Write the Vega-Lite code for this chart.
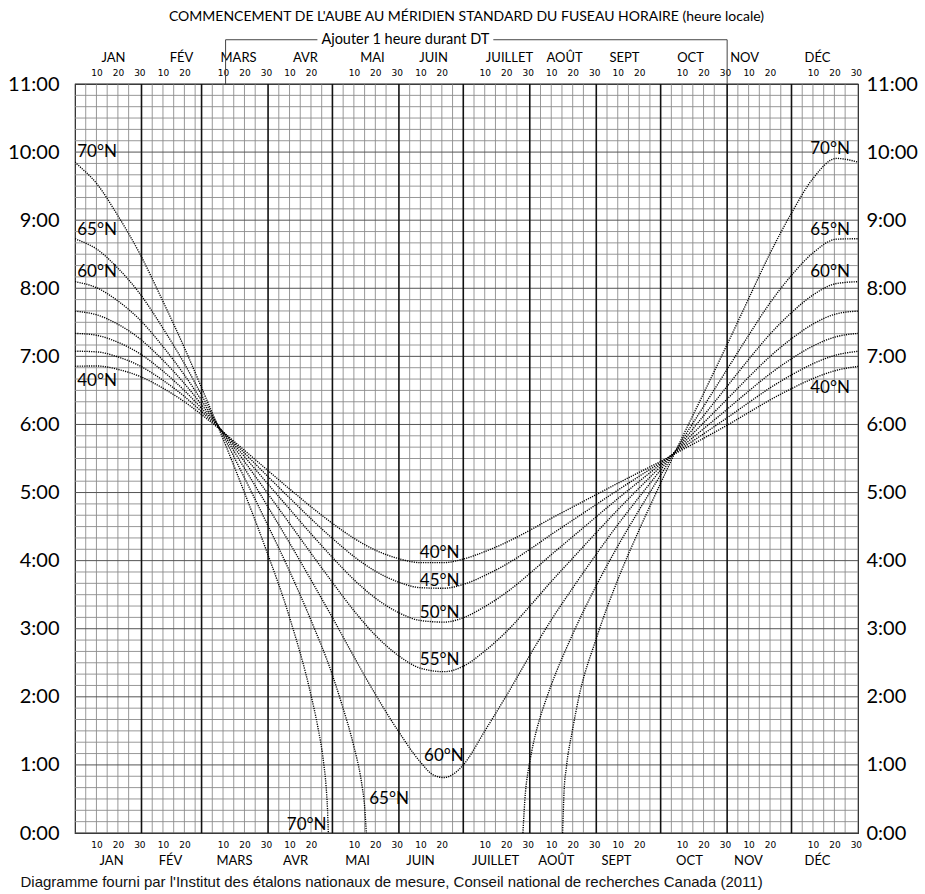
{
"$schema": "https://vega.github.io/schema/vega-lite/v6.json",
"width": 783, "height": 749,
"autosize": {"type": "none"},
"padding": {"left": 75, "top": 84, "right": 67, "bottom": 61},
"background": "white",
"config": {"view": {"stroke": "#222", "strokeWidth": 1.2}, "font": "Lato", "axis": {"labelColor": "black", "labelFont": "Lato"}},
"title": {"text": "COMMENCEMENT DE L'AUBE AU MÉRIDIEN STANDARD DU FUSEAU HORAIRE (heure locale)", "font": "Lato", "fontSize": 14, "fontWeight": "normal", "anchor": "middle", "baseline": "bottom", "offset": 6, "dy": 12, "color": "black"},
"datasets": {
"hgrid": [{"h":0.1667},{"h":0.3333},{"h":0.5},{"h":0.6667},{"h":0.8333},{"h":1.1667},{"h":1.3333},{"h":1.5},{"h":1.6667},{"h":1.8333},{"h":2.1667},{"h":2.3333},{"h":2.5},{"h":2.6667},{"h":2.8333},{"h":3.1667},{"h":3.3333},{"h":3.5},{"h":3.6667},{"h":3.8333},{"h":4.1667},{"h":4.3333},{"h":4.5},{"h":4.6667},{"h":4.8333},{"h":5.1667},{"h":5.3333},{"h":5.5},{"h":5.6667},{"h":5.8333},{"h":6.1667},{"h":6.3333},{"h":6.5},{"h":6.6667},{"h":6.8333},{"h":7.1667},{"h":7.3333},{"h":7.5},{"h":7.6667},{"h":7.8333},{"h":8.1667},{"h":8.3333},{"h":8.5},{"h":8.6667},{"h":8.8333},{"h":9.1667},{"h":9.3333},{"h":9.5},{"h":9.6667},{"h":9.8333},{"h":10.1667},{"h":10.3333},{"h":10.5},{"h":10.6667},{"h":10.8333}],
"hours": [{"h":0},{"h":1},{"h":2},{"h":3},{"h":4},{"h":5},{"h":6},{"h":7},{"h":8},{"h":9},{"h":10},{"h":11}],
"vgrid": [{"d":5},{"d":10},{"d":15},{"d":20},{"d":25},{"d":36},{"d":41},{"d":46},{"d":51},{"d":56},{"d":64},{"d":69},{"d":74},{"d":79},{"d":84},{"d":95},{"d":100},{"d":105},{"d":110},{"d":115},{"d":125},{"d":130},{"d":135},{"d":140},{"d":145},{"d":156},{"d":161},{"d":166},{"d":171},{"d":176},{"d":186},{"d":191},{"d":196},{"d":201},{"d":206},{"d":217},{"d":222},{"d":227},{"d":232},{"d":237},{"d":248},{"d":253},{"d":258},{"d":263},{"d":268},{"d":278},{"d":283},{"d":288},{"d":293},{"d":298},{"d":309},{"d":314},{"d":319},{"d":324},{"d":329},{"d":339},{"d":344},{"d":349},{"d":354},{"d":359}],
"months": [{"d":31},{"d":59},{"d":90},{"d":120},{"d":151},{"d":181},{"d":212},{"d":243},{"d":273},{"d":304},{"d":334}],
"curves": [
{"s":"40","d":0,"t":6.853},{"s":"40","d":1,"t":6.855},{"s":"40","d":10,"t":6.859},{"s":"40","d":20,"t":6.809},{"s":"40","d":30,"t":6.709},{"s":"40","d":41,"t":6.533},{"s":"40","d":51,"t":6.333},{"s":"40","d":60,"t":6.12},{"s":"40","d":69,"t":5.89},{"s":"40","d":79,"t":5.621},{"s":"40","d":89,"t":5.348},{"s":"40","d":100,"t":5.054},{"s":"40","d":110,"t":4.792},{"s":"40","d":120,"t":4.548},{"s":"40","d":130,"t":4.329},{"s":"40","d":140,"t":4.155},{"s":"40","d":151,"t":4.028},{"s":"40","d":161,"t":3.971},{"s":"40","d":172,"t":3.971},{"s":"40","d":181,"t":4.023},{"s":"40","d":191,"t":4.132},{"s":"40","d":201,"t":4.267},{"s":"40","d":212,"t":4.445},{"s":"40","d":222,"t":4.621},{"s":"40","d":232,"t":4.788},{"s":"40","d":243,"t":4.97},{"s":"40","d":253,"t":5.136},{"s":"40","d":263,"t":5.297},{"s":"40","d":273,"t":5.457},{"s":"40","d":283,"t":5.626},{"s":"40","d":293,"t":5.796},{"s":"40","d":304,"t":5.989},{"s":"40","d":314,"t":6.175},{"s":"40","d":324,"t":6.36},{"s":"40","d":334,"t":6.526},{"s":"40","d":344,"t":6.674},{"s":"40","d":355,"t":6.795},{"s":"40","d":365,"t":6.853},
{"s":"45","d":0,"t":7.074},{"s":"45","d":1,"t":7.075},{"s":"45","d":10,"t":7.066},{"s":"45","d":20,"t":6.992},{"s":"45","d":30,"t":6.864},{"s":"45","d":41,"t":6.649},{"s":"45","d":51,"t":6.411},{"s":"45","d":60,"t":6.16},{"s":"45","d":69,"t":5.892},{"s":"45","d":79,"t":5.58},{"s":"45","d":89,"t":5.264},{"s":"45","d":100,"t":4.922},{"s":"45","d":110,"t":4.615},{"s":"45","d":120,"t":4.326},{"s":"45","d":130,"t":4.061},{"s":"45","d":140,"t":3.846},{"s":"45","d":151,"t":3.683},{"s":"45","d":161,"t":3.603},{"s":"45","d":172,"t":3.594},{"s":"45","d":181,"t":3.651},{"s":"45","d":191,"t":3.781},{"s":"45","d":201,"t":3.945},{"s":"45","d":212,"t":4.166},{"s":"45","d":222,"t":4.384},{"s":"45","d":232,"t":4.594},{"s":"45","d":243,"t":4.825},{"s":"45","d":253,"t":5.035},{"s":"45","d":263,"t":5.239},{"s":"45","d":273,"t":5.441},{"s":"45","d":283,"t":5.652},{"s":"45","d":293,"t":5.862},{"s":"45","d":304,"t":6.098},{"s":"45","d":314,"t":6.32},{"s":"45","d":324,"t":6.537},{"s":"45","d":334,"t":6.727},{"s":"45","d":344,"t":6.892},{"s":"45","d":355,"t":7.021},{"s":"45","d":365,"t":7.074},
{"s":"50","d":0,"t":7.337},{"s":"50","d":1,"t":7.336},{"s":"50","d":10,"t":7.31},{"s":"50","d":20,"t":7.207},{"s":"50","d":30,"t":7.044},{"s":"50","d":41,"t":6.783},{"s":"50","d":51,"t":6.498},{"s":"50","d":60,"t":6.203},{"s":"50","d":69,"t":5.891},{"s":"50","d":79,"t":5.527},{"s":"50","d":89,"t":5.16},{"s":"50","d":100,"t":4.758},{"s":"50","d":110,"t":4.395},{"s":"50","d":120,"t":4.047},{"s":"50","d":130,"t":3.722},{"s":"50","d":140,"t":3.45},{"s":"50","d":151,"t":3.235},{"s":"50","d":161,"t":3.121},{"s":"50","d":172,"t":3.097},{"s":"50","d":181,"t":3.161},{"s":"50","d":191,"t":3.324},{"s":"50","d":201,"t":3.53},{"s":"50","d":212,"t":3.811},{"s":"50","d":222,"t":4.087},{"s":"50","d":232,"t":4.352},{"s":"50","d":243,"t":4.645},{"s":"50","d":253,"t":4.909},{"s":"50","d":263,"t":5.164},{"s":"50","d":273,"t":5.418},{"s":"50","d":283,"t":5.679},{"s":"50","d":293,"t":5.936},{"s":"50","d":304,"t":6.223},{"s":"50","d":314,"t":6.489},{"s":"50","d":324,"t":6.744},{"s":"50","d":334,"t":6.965},{"s":"50","d":344,"t":7.152},{"s":"50","d":355,"t":7.29},{"s":"50","d":365,"t":7.337},
{"s":"55","d":0,"t":7.665},{"s":"55","d":1,"t":7.661},{"s":"55","d":10,"t":7.612},{"s":"55","d":20,"t":7.472},{"s":"55","d":30,"t":7.264},{"s":"55","d":41,"t":6.943},{"s":"55","d":51,"t":6.601},{"s":"55","d":60,"t":6.252},{"s":"55","d":69,"t":5.884},{"s":"55","d":79,"t":5.456},{"s":"55","d":89,"t":5.023},{"s":"55","d":100,"t":4.547},{"s":"55","d":110,"t":4.109},{"s":"55","d":120,"t":3.681},{"s":"55","d":130,"t":3.266},{"s":"55","d":140,"t":2.904},{"s":"55","d":151,"t":2.6},{"s":"55","d":161,"t":2.421},{"s":"55","d":172,"t":2.369},{"s":"55","d":181,"t":2.449},{"s":"55","d":191,"t":2.672},{"s":"55","d":201,"t":2.954},{"s":"55","d":212,"t":3.331},{"s":"55","d":222,"t":3.693},{"s":"55","d":232,"t":4.036},{"s":"55","d":243,"t":4.412},{"s":"55","d":253,"t":4.746},{"s":"55","d":263,"t":5.067},{"s":"55","d":273,"t":5.383},{"s":"55","d":283,"t":5.706},{"s":"55","d":293,"t":6.023},{"s":"55","d":304,"t":6.372},{"s":"55","d":314,"t":6.693},{"s":"55","d":324,"t":6.999},{"s":"55","d":334,"t":7.259},{"s":"55","d":344,"t":7.474},{"s":"55","d":355,"t":7.625},{"s":"55","d":365,"t":7.665},
{"s":"60","d":0,"t":8.097},{"s":"60","d":1,"t":8.091},{"s":"60","d":10,"t":8.009},{"s":"60","d":20,"t":7.814},{"s":"60","d":30,"t":7.545},{"s":"60","d":41,"t":7.144},{"s":"60","d":51,"t":6.727},{"s":"60","d":60,"t":6.307},{"s":"60","d":69,"t":5.868},{"s":"60","d":79,"t":5.357},{"s":"60","d":89,"t":4.839},{"s":"60","d":100,"t":4.261},{"s":"60","d":110,"t":3.717},{"s":"60","d":120,"t":3.163},{"s":"60","d":130,"t":2.59},{"s":"60","d":140,"t":2.038},{"s":"60","d":151,"t":1.482},{"s":"60","d":161,"t":1.042},{"s":"60","d":167,"t":0.853},{"s":"60","d":172,"t":0.814},{"s":"60","d":177,"t":0.88},{"s":"60","d":181,"t":1.0},{"s":"60","d":191,"t":1.497},{"s":"60","d":201,"t":2.011},{"s":"60","d":212,"t":2.609},{"s":"60","d":222,"t":3.128},{"s":"60","d":232,"t":3.598},{"s":"60","d":243,"t":4.095},{"s":"60","d":253,"t":4.527},{"s":"60","d":263,"t":4.934},{"s":"60","d":273,"t":5.333},{"s":"60","d":283,"t":5.735},{"s":"60","d":293,"t":6.128},{"s":"60","d":304,"t":6.56},{"s":"60","d":314,"t":6.954},{"s":"60","d":324,"t":7.327},{"s":"60","d":334,"t":7.643},{"s":"60","d":344,"t":7.901},{"s":"60","d":355,"t":8.07},{"s":"60","d":365,"t":8.097},
{"s":"65a","d":0,"t":8.728},{"s":"65a","d":1,"t":8.715},{"s":"65a","d":10,"t":8.578},{"s":"65a","d":20,"t":8.295},{"s":"65a","d":30,"t":7.93},{"s":"65a","d":41,"t":7.413},{"s":"65a","d":51,"t":6.892},{"s":"65a","d":60,"t":6.375},{"s":"65a","d":69,"t":5.84},{"s":"65a","d":79,"t":5.216},{"s":"65a","d":89,"t":4.576},{"s":"65a","d":100,"t":3.846},{"s":"65a","d":110,"t":3.124},{"s":"65a","d":120,"t":2.319},{"s":"65a","d":124,"t":1.93},{"s":"65a","d":130,"t":1.271},{"s":"65a","d":133,"t":0.85},{"s":"65a","d":134,"t":0.651},{"s":"65a","d":135,"t":0.391},{"s":"65a","d":135.8,"t":0},
{"s":"65b","d":208.8,"t":0},{"s":"65b","d":210,"t":0.604},{"s":"65b","d":211,"t":0.864},{"s":"65b","d":212,"t":1.048},{"s":"65b","d":214,"t":1.363},{"s":"65b","d":217,"t":1.714},{"s":"65b","d":220,"t":1.998},{"s":"65b","d":222,"t":2.172},{"s":"65b","d":232,"t":2.921},{"s":"65b","d":243,"t":3.633},{"s":"65b","d":253,"t":4.213},{"s":"65b","d":263,"t":4.745},{"s":"65b","d":273,"t":5.258},{"s":"65b","d":283,"t":5.767},{"s":"65b","d":293,"t":6.264},{"s":"65b","d":304,"t":6.81},{"s":"65b","d":314,"t":7.309},{"s":"65b","d":324,"t":7.786},{"s":"65b","d":334,"t":8.191},{"s":"65b","d":344,"t":8.519},{"s":"65b","d":355,"t":8.721},{"s":"65b","d":365,"t":8.728},
{"s":"70a","d":0,"t":9.853},{"s":"70a","d":1,"t":9.823},{"s":"70a","d":10,"t":9.542},{"s":"70a","d":20,"t":9.065},{"s":"70a","d":30,"t":8.52},{"s":"70a","d":41,"t":7.808},{"s":"70a","d":51,"t":7.126},{"s":"70a","d":60,"t":6.466},{"s":"70a","d":69,"t":5.79},{"s":"70a","d":79,"t":4.998},{"s":"70a","d":89,"t":4.168},{"s":"70a","d":100,"t":3.168},{"s":"70a","d":110,"t":2.025},{"s":"70a","d":113,"t":1.589},{"s":"70a","d":116,"t":1.003},{"s":"70a","d":117,"t":0.703},{"s":"70a","d":117.7,"t":0.353},{"s":"70a","d":118.1,"t":0},
{"s":"70b","d":227.3,"t":0},{"s":"70b","d":228,"t":0.623},{"s":"70b","d":229,"t":0.947},{"s":"70b","d":232,"t":1.528},{"s":"70b","d":235,"t":2.01},{"s":"70b","d":243,"t":2.855},{"s":"70b","d":253,"t":3.718},{"s":"70b","d":263,"t":4.453},{"s":"70b","d":273,"t":5.138},{"s":"70b","d":283,"t":5.806},{"s":"70b","d":293,"t":6.455},{"s":"70b","d":304,"t":7.175},{"s":"70b","d":314,"t":7.846},{"s":"70b","d":324,"t":8.512},{"s":"70b","d":334,"t":9.105},{"s":"70b","d":344,"t":9.611},{"s":"70b","d":355,"t":9.907},{"s":"70b","d":365,"t":9.853}
],
"labels": [
{"txt":"70°N","d":10.3,"t":10.0},{"txt":"65°N","d":10.3,"t":8.86},{"txt":"60°N","d":10.3,"t":8.24},{"txt":"40°N","d":10.3,"t":6.64},
{"txt":"70°N","d":352,"t":10.04},{"txt":"65°N","d":352,"t":8.86},{"txt":"60°N","d":352,"t":8.24},{"txt":"40°N","d":352,"t":6.53},
{"txt":"40°N","d":170,"t":4.11},{"txt":"45°N","d":170,"t":3.705},{"txt":"50°N","d":170,"t":3.231},{"txt":"55°N","d":170,"t":2.541},{"txt":"60°N","d":172,"t":1.13},{"txt":"65°N","d":146.4,"t":0.5},{"txt":"70°N","d":108,"t":0.12}
],
"dtseg": [{"d":70.2,"d2":70.2,"t":11.0,"t2":11.65},{"d":70.2,"d2":113,"t":11.65,"t2":11.65},{"d":195,"d2":304,"t":11.65,"t2":11.65},{"d":304,"d2":304,"t":11.65,"t2":11.0}],
"dttext": [{"txt":"Ajouter 1 heure durant DT","d":154,"t":11.65}]
},
"layer": [
{"data": {"name": "hgrid"}, "mark": {"type": "rule", "color": "#8c8c8c", "strokeWidth": 0.9},
 "encoding": {"y": {"field": "h", "type": "quantitative", "scale": {"domain": [0, 11], "nice": false, "zero": false},
   "axis": {"orient": "left", "values": [0,1,2,3,4,5,6,7,8,9,10,11], "labelExpr": "datum.value + ':00'", "ticks": false, "domain": false, "grid": false, "labelFontSize": 20, "labelPadding": 16, "title": null, "labelOverlap": false, "labelFlush": false}}}},
{"data": {"name": "vgrid"}, "mark": {"type": "rule", "color": "#8c8c8c", "strokeWidth": 0.9},
 "encoding": {"x": {"field": "d", "type": "quantitative", "scale": {"domain": [0, 365], "nice": false, "zero": false},
   "axis": {"orient": "bottom", "values": [10,20,30,41,51,69,79,89,100,110,130,140,150,161,171,191,201,211,222,232,242,253,263,283,293,303,314,324,344,354,364], "labelExpr": "datum.value - [0,31,59,90,120,151,181,212,243,273,304,334][floor((datum.value-1)/30.42)]", "ticks": false, "domain": false, "grid": false, "labelFont": "DejaVu Sans", "labelFontSize": 9, "labelPadding": 7, "title": null, "labelOverlap": false, "labelFlush": false}}}},
{"data": {"name": "hours"}, "mark": {"type": "rule", "color": "#555", "strokeWidth": 1},
 "encoding": {"y": {"field": "h", "type": "quantitative", "scale": {"domain": [0, 11], "nice": false, "zero": false},
   "axis": {"orient": "right", "values": [0,1,2,3,4,5,6,7,8,9,10,11], "labelExpr": "datum.value + ':00'", "ticks": false, "domain": false, "grid": false, "labelFontSize": 20, "labelPadding": 8, "title": null, "labelOverlap": false, "labelFlush": false}}}},
{"data": {"name": "months"}, "mark": {"type": "rule", "color": "#111", "strokeWidth": 1.6},
 "encoding": {"x": {"field": "d", "type": "quantitative", "scale": {"domain": [0, 365], "nice": false, "zero": false},
   "axis": {"orient": "bottom", "values": [16.8,44.3,74.1,102.6,131.5,160.8,195.8,224.2,252.2,286.2,313.7,345.9], "labelExpr": "['JAN','FÉV','MARS','AVR','MAI','JUIN','JUILLET','AOÛT','SEPT','OCT','NOV','DÉC'][floor(datum.value/30.42)]", "ticks": false, "domain": false, "grid": false, "labelFontSize": 13, "labelPadding": 21, "labelOverlap": false, "labelFlush": false,
     "title": "Diagramme fourni par l'Institut des étalons nationaux de mesure, Conseil national de recherches Canada (2011)", "titleFont": "Liberation Sans", "titleFontSize": 15, "titleFontWeight": "normal", "titleColor": "#111", "titleX": -55, "titleY": 53, "titleAlign": "left", "titleAnchor": "start", "titleBaseline": "alphabetic"}}}},
{"data": {"name": "curves"}, "mark": {"type": "line", "interpolate": "monotone", "strokeWidth": 1.35, "color": "#000", "strokeDash": [1.2, 1.1], "clip": true},
 "encoding": {"x": {"field": "d", "type": "quantitative", "scale": {"domain": [0, 365], "nice": false, "zero": false},
   "axis": {"orient": "top", "values": [10,20,30,41,51,69,79,89,100,110,130,140,150,161,171,191,201,211,222,232,242,253,263,283,293,303,314,324,344,354,364], "labelExpr": "datum.value - [0,31,59,90,120,151,181,212,243,273,304,334][floor((datum.value-1)/30.42)]", "ticks": false, "domain": false, "grid": false, "labelFont": "DejaVu Sans", "labelFontSize": 9, "labelPadding": 7, "title": null, "labelOverlap": false, "labelFlush": false}},
  "y": {"field": "t", "type": "quantitative", "scale": {"domain": [0, 11], "nice": false, "zero": false}, "axis": null},
  "detail": {"field": "s", "type": "nominal"}}},
{"data": {"name": "labels"}, "mark": {"type": "text", "fontSize": 17, "font": "Lato", "color": "black", "baseline": "middle", "align": "center"},
 "encoding": {"x": {"field": "d", "type": "quantitative", "scale": {"domain": [0, 365], "nice": false, "zero": false},
   "axis": {"orient": "top", "values": [17.7,49.4,76,107.2,138.4,166.9,202.3,228,255.9,286.7,311.9,345.9], "labelExpr": "['JAN','FÉV','MARS','AVR','MAI','JUIN','JUILLET','AOÛT','SEPT','OCT','NOV','DÉC'][floor(datum.value/30.42)]", "ticks": false, "domain": false, "grid": false, "labelFontSize": 13, "labelPadding": 20, "title": null, "labelOverlap": false, "labelFlush": false}},
  "y": {"field": "t", "type": "quantitative", "scale": {"domain": [0, 11], "nice": false, "zero": false}, "axis": null},
  "text": {"field": "txt"}}},
{"data": {"name": "dtseg"}, "mark": {"type": "rule", "color": "#444", "strokeWidth": 1, "clip": false},
 "encoding": {"x": {"field": "d", "type": "quantitative", "scale": {"domain": [0, 365], "nice": false, "zero": false}, "axis": null},
  "x2": {"field": "d2"},
  "y": {"field": "t", "type": "quantitative", "scale": {"domain": [0, 11], "nice": false, "zero": false}, "axis": null},
  "y2": {"field": "t2"}}},
{"data": {"name": "dttext"}, "mark": {"type": "text", "fontSize": 14.5, "font": "Lato", "color": "black", "baseline": "middle", "align": "center", "clip": false},
 "encoding": {"x": {"field": "d", "type": "quantitative", "scale": {"domain": [0, 365], "nice": false, "zero": false}, "axis": null},
  "y": {"field": "t", "type": "quantitative", "scale": {"domain": [0, 11], "nice": false, "zero": false}, "axis": null},
  "text": {"field": "txt"}}}
],
"resolve": {"axis": {"x": "independent", "y": "independent"}}
}
